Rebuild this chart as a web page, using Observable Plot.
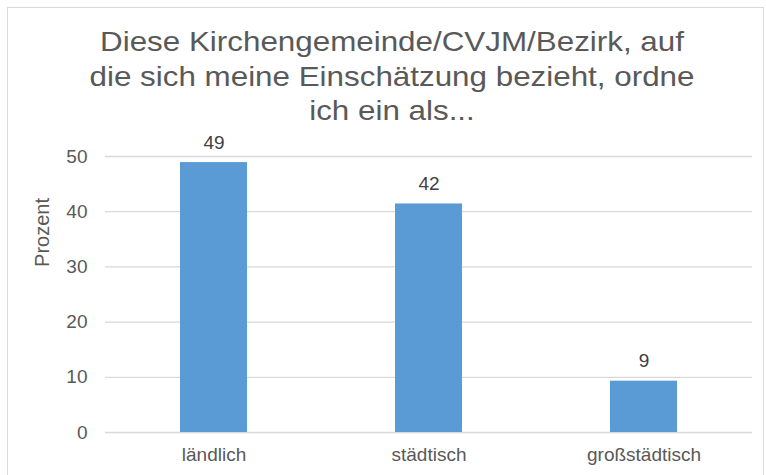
<!DOCTYPE html>
<html>
<head>
<meta charset="utf-8">
<script src="https://cdn.jsdelivr.net/npm/d3@7"></script>
<script src="https://cdn.jsdelivr.net/npm/@observablehq/plot@0.6"></script>
<style>
  html, body { margin: 0; padding: 0; background: #fff; }
  #wrap { position: relative; width: 766px; height: 475px; overflow: hidden; font-family: "Liberation Sans", Arial, sans-serif; }
  #frame { position: absolute; left: 7px; top: 7px; width: 757px; height: 480px; border: 1px solid #d9d9d9; box-sizing: border-box; }
  #title { position: absolute; left: 0; top: 0; width: 784px; height: 120px; text-align: center; color: #595959; font-size: 28px; line-height: 34.5px; padding-top: 25px; box-sizing: border-box; transform: scaleX(1.12); transform-origin: 392px 0; }
  #chart { position: absolute; left: 0; top: 120px; }
  #chart g[aria-label$="tick label"] { font-size: 19px; }
</style>
</head>
<body>
<div id="wrap">
  <div id="frame"></div>
  <div id="title">Diese Kirchengemeinde/CVJM/Bezirk, auf<br>die sich meine Einschätzung bezieht, ordne<br>ich ein als...</div>
  <div id="chart"></div>
</div>
<script>
const categories = ["ländlich", "städtisch", "großstädtisch"];
const values = [48.9, 41.4, 9.3];
const valueLabels = ["49", "42", "9"];
const yTicks = [0, 10, 20, 30, 40, 50];
const yTitle = "Prozent";

const data = categories.map((c, i) => ({cat: c, value: values[i], label: valueLabels[i]}));

const chart = Plot.plot({
  width: 766,
  height: 355,
  marginLeft: 105,
  marginRight: 14,
  marginTop: 36,
  marginBottom: 43,
  style: {fontFamily: "Liberation Sans, Arial, sans-serif", fontSize: "19px", color: "#595959", background: "transparent", overflow: "visible"},
  x: {domain: categories, paddingInner: 0.69, paddingOuter: 0.345},
  y: {domain: [0, 50]},
  marks: [
    Plot.gridY(yTicks, {stroke: "#d9d9d9", strokeOpacity: 1, strokeWidth: 1.3}),
    Plot.barY(data, {x: "cat", y: "value", fill: "#5b9bd5"}),
    Plot.text(data, {x: "cat", y: "value", text: "label", dy: -20, fontSize: 19, fill: "#404040"}),
    Plot.axisY(yTicks, {tickSize: 0, tickPadding: 18, fontSize: 19, fill: "#595959", label: null}),
    Plot.axisX({tickSize: 0, tickPadding: 15, fontSize: 19, fill: "#595959", label: null}),
    Plot.text([yTitle], {frameAnchor: "left", y: [30], text: d => d, rotate: -90, dx: -63, fontSize: 20, fill: "#595959"})
  ]
});
document.getElementById("chart").appendChild(chart);
</script>
</body>
</html>
